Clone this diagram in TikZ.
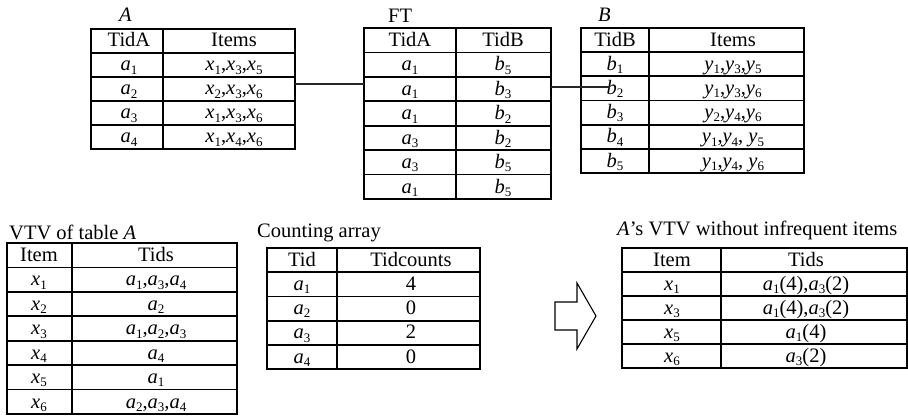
\documentclass[tikz,border=0pt]{standalone}
\usepackage{fontspec}
\setmainfont{Liberation Serif}
\newcommand{\vr}[2]{\textit{#1}\raisebox{-0.35ex}{\fontsize{13}{13}\selectfont #2}}
% grid of a table: name, x0, xmid, x1, ytop, step, nrows
\newcommand{\tablegrid}[7]{%
  \node[draw, grid, anchor=north west, inner sep=0pt, outer sep=0pt,
        minimum width={#4pt-#2pt}, minimum height={#6pt*#7}] (#1) at (#2,#5) {};
  \draw[grid] (#3,#5) -- (#3,{#5+#6*#7});
  \pgfmathtruncatemacro{\nlast}{#7-1}
  \foreach \k in {1,...,\nlast} {\draw[grid] (#2,{#5+\k*#6}) -- (#4,{#5+\k*#6});}
}
% rows: name, cx1, cx2, ytop, step, list
\newcommand{\tablerows}[6]{%
  \foreach \a/\b [count=\i from 0] in {#6} {
    \node[cell] (#1-\i-1) at (#2,{#4+(\i+1)*#5-6}) {\a};
    \node[cell] (#1-\i-2) at (#3,{#4+(\i+1)*#5-6}) {\b};
  }
}
\begin{document}
\begin{tikzpicture}[x=1pt,y=-1pt,
  font=\fontsize{20.5}{22}\selectfont,
  grid/.style={line width=1.8pt},
  cell/.style={anchor=base, inner sep=0pt},
  lbl/.style={anchor=base west, inner sep=0pt},
  conn/.style={line width=1.7pt, draw=black!85},
  blockarrow/.style={line width=1.1pt, line join=miter}]
\useasboundingbox (0,0) rectangle (908,417);

% ---- Table A ----
\node[lbl] (labA) at (119,22) {\textit{A}};
\tablegrid{tabA}{91}{163}{295}{29}{24}{5}
\tablerows{A}{129}{234}{29}{24}{TidA/Items,
  \vr{a}{1}/{\vr{x}{1},\vr{x}{3},\vr{x}{5}},
  \vr{a}{2}/{\vr{x}{2},\vr{x}{3},\vr{x}{6}},
  \vr{a}{3}/{\vr{x}{1},\vr{x}{3},\vr{x}{6}},
  \vr{a}{4}/{\vr{x}{1},\vr{x}{4},\vr{x}{6}}}

% ---- Table FT ----
\node[lbl] (labFT) at (388,23) {FT};
\tablegrid{tabFT}{364}{456}{551}{28}{24.43}{7}
\tablerows{FT}{410}{503}{28}{24.43}{TidA/TidB,
  \vr{a}{1}/\vr{b}{5},
  \vr{a}{1}/\vr{b}{3},
  \vr{a}{1}/\vr{b}{2},
  \vr{a}{3}/\vr{b}{2},
  \vr{a}{3}/\vr{b}{5},
  \vr{a}{1}/\vr{b}{5}}

% ---- Table B ----
\node[lbl] (labB) at (598,22) {\textit{B}};
\tablegrid{tabB}{581}{649}{804}{28}{24.17}{6}
\tablerows{B}{615}{733}{28}{24.17}{TidB/Items,
  \vr{b}{1}/{\vr{y}{1},\vr{y}{3},\vr{y}{5}},
  \vr{b}{2}/{\vr{y}{1},\vr{y}{3},\vr{y}{6}},
  \vr{b}{3}/{\vr{y}{2},\vr{y}{4},\vr{y}{6}},
  \vr{b}{4}/{\vr{y}{1},\vr{y}{4}, \vr{y}{5}},
  \vr{b}{5}/{\vr{y}{1},\vr{y}{4}, \vr{y}{6}}}

% ---- connectors ----
\coordinate (yAF) at (0,84);
\coordinate (yFB) at (0,87);
\coordinate (endFB) at (610,87);
\draw[conn] (tabA.east |- yAF) -- (tabFT.west |- yAF);
\draw[conn] (tabFT.east |- yFB) -- (endFB);

% ---- VTV of table A ----
\node[lbl] (labVTV) at (9,239) {VTV of table \textit{A}};
\tablegrid{tabV}{7}{72}{237}{243}{24.43}{7}
\tablerows{V}{39}{156}{243}{24.43}{Item/Tids,
  \vr{x}{1}/{\vr{a}{1},\vr{a}{3},\vr{a}{4}},
  \vr{x}{2}/\vr{a}{2},
  \vr{x}{3}/{\vr{a}{1},\vr{a}{2},\vr{a}{3}},
  \vr{x}{4}/\vr{a}{4},
  \vr{x}{5}/\vr{a}{1},
  \vr{x}{6}/{\vr{a}{2},\vr{a}{3},\vr{a}{4}}}

% ---- Counting array ----
\node[lbl] (labC) at (257,237) {Counting array};
\tablegrid{tabC}{267}{337}{480}{248}{24.2}{5}
\tablerows{C}{302}{411}{248}{24.2}{Tid/Tidcounts,
  \vr{a}{1}/4,
  \vr{a}{2}/0,
  \vr{a}{3}/2,
  \vr{a}{4}/0}

% ---- block arrow ----
\draw[blockarrow] (555,302) -- (577,302) -- (577,283) -- (596,316)
  -- (577,349) -- (577,330) -- (555,330) -- cycle;

% ---- A's VTV without infrequent items ----
\node[lbl] (labR) at (617,235) {\textit{A}’s VTV without infrequent items};
\tablegrid{tabR}{622}{721}{907}{248}{24}{5}
\tablerows{R}{672}{806}{248}{24}{Item/Tids,
  \vr{x}{1}/{\vr{a}{1}(4),\vr{a}{3}(2)},
  \vr{x}{3}/{\vr{a}{1}(4),\vr{a}{3}(2)},
  \vr{x}{5}/{\vr{a}{1}(4)},
  \vr{x}{6}/{\vr{a}{3}(2)}}
\end{tikzpicture}
\end{document}
